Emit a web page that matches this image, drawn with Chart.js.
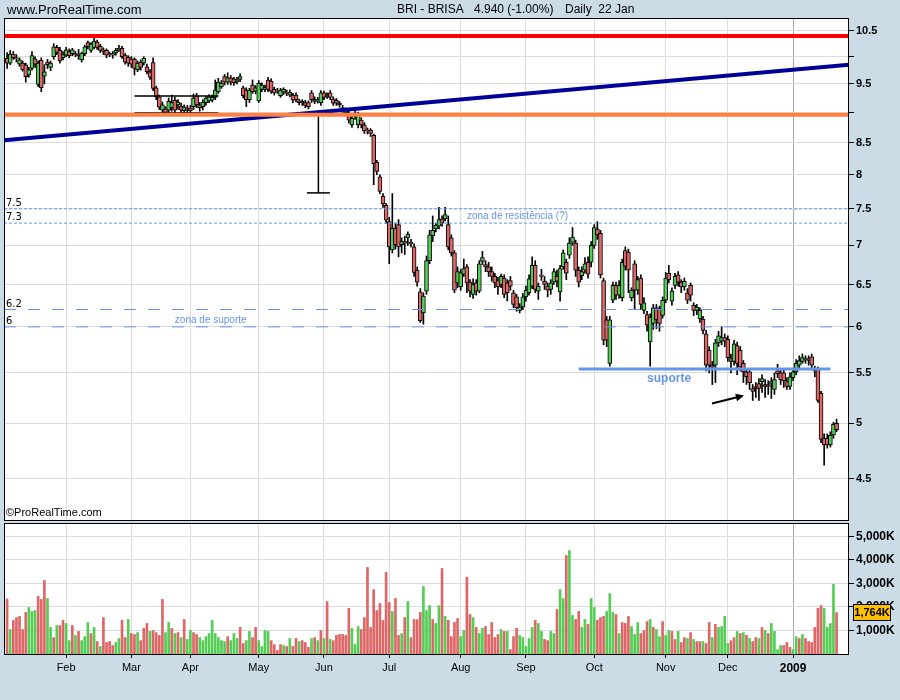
<!DOCTYPE html>
<html>
<head>
<meta charset="utf-8">
<title>BRI - BRISA daily</title>
<script src="https://cdn.jsdelivr.net/npm/chart.js@4.4.0/dist/chart.umd.min.js"></script>
<style>
  html, body { margin: 0; padding: 0; background: #cbdce6; }
  #wrap { position: relative; width: 900px; height: 700px; overflow: hidden; }
  #priceChart { position: absolute; left: 0; top: 0; }
  #volChart { position: absolute; left: 0; top: 521px; }
</style>
</head>
<body>
<div id="wrap">
  <canvas id="priceChart" width="900" height="523"></canvas>
  <canvas id="volChart" width="900" height="179"></canvas>
</div>
<script>
// trading days per month, from 7 Jan 2008 up to 22 Jan 2009
const monthNames = ['Jan', 'Feb', 'Mar', 'Apr', 'May', 'Jun', 'Jul', 'Aug', 'Sep', 'Oct', 'Nov', 'Dec', '2009'];
const daysPerMonth = [19, 21, 19, 22, 21, 21, 23, 21, 22, 23, 20, 21, 15];

const open = [
  9.97, 9.88, 10.05, 9.98, 9.86, 9.88, 9.85, 9.66, 9.78, 9.96, 9.49, 9.93, 9.64, 9.90, 9.80, 10.00, 10.18, 10.12, 9.98,
  10.03, 10.10, 10.06, 10.06, 10.05, 9.94, 10.06, 10.27, 10.12, 10.18, 10.28, 10.20, 10.13, 10.12, 10.06, 10.03, 10.07, 10.13, 10.16, 10.03, 9.99,
  9.96, 9.95, 9.76, 9.90, 9.88, 9.81, 9.72, 9.89, 9.43, 9.27, 9.04, 9.06, 9.04, 9.08, 9.21, 9.13, 9.11, 9.03, 9.07,
  9.08, 9.10, 9.28, 9.13, 9.10, 9.17, 9.20, 9.21, 9.26, 9.36, 9.45, 9.63, 9.53, 9.61, 9.59, 9.54, 9.58, 9.43, 9.39, 9.22, 9.48, 9.37,
  9.20, 9.40, 9.40, 9.57, 9.55, 9.40, 9.39, 9.29, 9.35, 9.35, 9.30, 9.30, 9.30, 9.20, 9.19, 9.17, 9.17, 9.34, 9.22, 9.20, 9.17,
  9.34, 9.27, 9.34, 9.23, 9.21, 9.16, 9.08, 9.04, 8.99, 8.79, 8.99, 8.79, 8.87, 8.79, 8.71, 8.70, 8.62, 8.19, 7.97, 7.68, 7.55,
  7.32, 6.94, 7.23, 7.28, 7.01, 7.05, 7.10, 7.04, 6.98, 6.68, 6.41, 6.16, 6.42, 6.80, 7.13, 7.22, 7.26, 7.36, 7.36, 7.28, 7.10, 6.90, 6.52,
  6.47, 6.63, 6.72, 6.53, 6.38, 6.52, 6.42, 6.79, 6.75, 6.72, 6.66, 6.60, 6.55, 6.50, 6.58, 6.52, 6.55, 6.40, 6.35, 6.19, 6.23,
  6.35, 6.40, 6.48, 6.74, 6.42, 6.62, 6.54, 6.48, 6.44, 6.53, 6.60, 6.41, 6.72, 6.78, 6.87, 7.04, 7.03, 6.68, 6.61, 6.68, 6.78, 6.78,
  7.00, 7.22, 7.16, 6.55, 6.08, 5.60, 6.31, 6.49, 6.37, 6.34, 6.93, 6.91, 6.34, 6.76, 6.43, 6.58, 6.19, 6.14, 5.83, 6.04, 6.22, 6.21, 6.13,
  6.31, 6.64, 6.30, 6.49, 6.62, 6.53, 6.47, 6.40, 6.49, 6.25, 6.19, 6.09, 6.09, 5.92, 5.74, 5.58, 5.58, 5.82, 5.84, 5.88,
  5.86, 5.65, 5.62, 5.79, 5.74, 5.60, 5.51, 5.51, 5.34, 5.36, 5.39, 5.41, 5.38, 5.38, 5.39, 5.33, 5.52, 5.50, 5.50, 5.41, 5.36,
  5.45, 5.51, 5.58, 5.62, 5.64, 5.65, 5.67, 5.54, 5.54, 5.29, 4.86, 4.86, 4.80, 4.89, 5.00
];
const high = [
  10.08, 10.12, 10.10, 10.04, 9.98, 9.92, 9.88, 9.80, 10.10, 10.00, 9.92, 9.98, 9.85, 9.95, 9.92, 10.25, 10.22, 10.18, 10.10,
  10.18, 10.15, 10.16, 10.10, 10.14, 10.09, 10.22, 10.30, 10.27, 10.37, 10.32, 10.24, 10.17, 10.15, 10.09, 10.10, 10.16, 10.22, 10.20, 10.06, 10.02,
  10.00, 9.98, 9.92, 9.94, 10.00, 9.86, 9.76, 9.98, 9.46, 9.30, 9.18, 9.10, 9.25, 9.30, 9.26, 9.22, 9.16, 9.13, 9.12,
  9.12, 9.32, 9.33, 9.17, 9.22, 9.28, 9.31, 9.30, 9.57, 9.60, 9.56, 9.67, 9.70, 9.65, 9.62, 9.62, 9.68, 9.46, 9.43, 9.42, 9.57, 9.47,
  9.56, 9.52, 9.48, 9.62, 9.59, 9.44, 9.42, 9.42, 9.43, 9.39, 9.39, 9.33, 9.34, 9.23, 9.22, 9.21, 9.20, 9.38, 9.27, 9.26, 9.38,
  9.37, 9.34, 9.38, 9.27, 9.24, 9.19, 9.12, 9.08, 9.02, 8.94, 9.03, 9.00, 8.91, 8.83, 8.74, 8.73, 8.64, 8.22, 8.00, 7.72, 7.58,
  7.38, 7.72, 7.30, 7.35, 7.10, 7.12, 7.18, 7.08, 7.02, 6.72, 6.45, 6.40, 6.86, 7.20, 7.40, 7.30, 7.52, 7.40, 7.52, 7.40, 7.14, 6.93, 6.72,
  6.69, 6.82, 6.75, 6.56, 6.57, 6.56, 6.80, 6.92, 6.80, 6.78, 6.72, 6.64, 6.59, 6.63, 6.62, 6.56, 6.60, 6.43, 6.38, 6.27, 6.39,
  6.48, 6.62, 6.85, 6.80, 6.52, 6.69, 6.60, 6.52, 6.56, 6.70, 6.68, 6.74, 6.94, 6.82, 7.10, 7.24, 7.07, 6.72, 6.72, 6.84, 6.85, 7.05,
  7.28, 7.32, 7.20, 6.58, 6.12, 6.12, 6.53, 6.53, 6.55, 6.82, 6.98, 6.95, 6.46, 6.80, 6.60, 6.62, 6.34, 6.18, 6.15, 6.26, 6.26, 6.24, 6.35,
  6.65, 6.74, 6.46, 6.64, 6.66, 6.56, 6.58, 6.45, 6.52, 6.28, 6.26, 6.22, 6.12, 5.96, 5.78, 5.62, 5.86, 5.95, 6.00, 5.92,
  5.90, 5.70, 5.85, 5.83, 5.78, 5.63, 5.54, 5.54, 5.38, 5.40, 5.44, 5.48, 5.43, 5.42, 5.45, 5.50, 5.59, 5.53, 5.54, 5.45, 5.50,
  5.55, 5.64, 5.68, 5.70, 5.68, 5.68, 5.70, 5.57, 5.56, 5.31, 4.90, 4.90, 4.92, 5.01, 5.04
];
const low = [
  9.78, 9.85, 9.95, 9.90, 9.82, 9.73, 9.53, 9.62, 9.75, 9.80, 9.45, 9.36, 9.50, 9.78, 9.74, 9.95, 10.04, 9.88, 9.94,
  10.00, 9.98, 10.02, 10.00, 9.95, 9.90, 10.02, 10.15, 10.08, 10.15, 10.14, 10.08, 10.04, 9.98, 10.00, 9.97, 10.03, 10.10, 9.97, 9.86, 9.82,
  9.80, 9.66, 9.72, 9.75, 9.84, 9.68, 9.58, 9.38, 9.22, 9.05, 9.00, 8.95, 9.00, 9.02, 8.98, 9.05, 9.00, 8.98, 9.00,
  8.98, 9.05, 9.08, 9.02, 9.04, 9.12, 9.17, 9.18, 9.22, 9.33, 9.42, 9.48, 9.49, 9.48, 9.47, 9.50, 9.54, 9.25, 9.10, 9.17, 9.33, 9.32,
  9.17, 9.36, 9.36, 9.36, 9.33, 9.30, 9.33, 9.26, 9.31, 9.29, 9.27, 9.17, 9.18, 9.13, 9.12, 9.08, 9.06, 9.17, 9.15, 9.16, 9.12,
  9.22, 9.24, 9.22, 9.12, 9.12, 9.09, 9.00, 8.94, 8.82, 8.75, 8.88, 8.74, 8.74, 8.65, 8.64, 8.60, 7.85, 8.00, 7.72, 7.52, 7.30,
  6.76, 6.90, 6.95, 6.85, 6.90, 6.88, 7.00, 6.98, 6.60, 6.48, 6.05, 6.03, 6.38, 6.76, 7.05, 7.18, 7.22, 7.26, 7.33, 6.94, 6.86, 6.40, 6.46,
  6.43, 6.60, 6.40, 6.35, 6.33, 6.37, 6.40, 6.75, 6.66, 6.60, 6.54, 6.46, 6.38, 6.46, 6.34, 6.30, 6.43, 6.22, 6.18, 6.16, 6.20,
  6.30, 6.37, 6.45, 6.40, 6.32, 6.55, 6.44, 6.35, 6.38, 6.50, 6.47, 6.30, 6.69, 6.56, 6.83, 7.00, 6.60, 6.47, 6.56, 6.64, 6.58, 6.72,
  6.96, 7.08, 6.58, 5.80, 5.78, 5.57, 6.28, 6.32, 6.33, 6.30, 6.68, 6.40, 6.30, 6.20, 6.38, 6.20, 6.15, 5.95, 5.57, 5.97, 5.98, 5.95, 6.10,
  6.28, 6.52, 6.25, 6.45, 6.48, 6.40, 6.43, 6.27, 6.30, 6.13, 6.14, 6.05, 5.92, 5.52, 5.50, 5.38, 5.40, 5.78, 5.80, 5.78,
  5.62, 5.50, 5.58, 5.48, 5.52, 5.40, 5.38, 5.33, 5.22, 5.25, 5.22, 5.30, 5.25, 5.28, 5.24, 5.28, 5.45, 5.38, 5.35, 5.33, 5.33,
  5.42, 5.48, 5.55, 5.60, 5.60, 5.58, 5.55, 5.46, 5.20, 4.82, 4.62, 4.77, 4.78, 4.86, 4.92
];
const close = [
  9.88, 10.05, 9.98, 9.96, 9.94, 9.76, 9.63, 9.76, 10.02, 9.86, 9.88, 9.43, 9.72, 9.85, 9.88, 10.19, 10.08, 9.92, 10.04,
  10.13, 10.02, 10.13, 10.04, 10.02, 10.07, 10.19, 10.19, 10.24, 10.30, 10.18, 10.12, 10.10, 10.03, 10.04, 10.06, 10.12, 10.16, 10.00, 9.90, 9.88,
  9.86, 9.78, 9.88, 9.80, 9.97, 9.72, 9.62, 9.42, 9.27, 9.09, 9.13, 9.00, 9.19, 9.17, 9.04, 9.18, 9.04, 9.09, 9.05,
  9.03, 9.25, 9.13, 9.08, 9.18, 9.25, 9.27, 9.26, 9.39, 9.53, 9.51, 9.53, 9.61, 9.53, 9.52, 9.57, 9.63, 9.29, 9.22, 9.39, 9.36, 9.43,
  9.51, 9.48, 9.44, 9.40, 9.37, 9.34, 9.37, 9.39, 9.40, 9.33, 9.35, 9.21, 9.22, 9.17, 9.17, 9.12, 9.10, 9.22, 9.19, 9.22, 9.34,
  9.26, 9.30, 9.26, 9.16, 9.16, 9.13, 9.04, 8.99, 8.87, 8.90, 8.93, 8.96, 8.79, 8.69, 8.69, 8.65, 8.17, 8.05, 7.75, 7.57, 7.34,
  6.98, 7.23, 7.01, 6.98, 7.05, 7.03, 7.15, 7.02, 6.65, 6.53, 6.07, 6.36, 6.80, 7.14, 7.20, 7.27, 7.35, 7.30, 7.42, 6.98, 6.90, 6.43, 6.66,
  6.65, 6.70, 6.52, 6.42, 6.50, 6.42, 6.76, 6.84, 6.72, 6.66, 6.60, 6.52, 6.47, 6.60, 6.38, 6.40, 6.48, 6.26, 6.22, 6.23, 6.35,
  6.43, 6.57, 6.74, 6.44, 6.48, 6.60, 6.50, 6.43, 6.52, 6.66, 6.54, 6.70, 6.90, 6.64, 7.03, 7.11, 6.68, 6.53, 6.66, 6.76, 6.63, 7.00,
  7.24, 7.14, 6.62, 5.85, 5.85, 6.08, 6.49, 6.37, 6.49, 6.78, 6.73, 6.68, 6.43, 6.43, 6.56, 6.26, 6.28, 6.02, 6.11, 6.22, 6.08, 6.04, 6.31,
  6.58, 6.56, 6.42, 6.60, 6.53, 6.47, 6.54, 6.31, 6.37, 6.19, 6.23, 6.19, 5.96, 5.58, 5.58, 5.56, 5.82, 5.90, 5.88, 5.84,
  5.66, 5.62, 5.81, 5.60, 5.56, 5.51, 5.46, 5.40, 5.31, 5.34, 5.34, 5.44, 5.36, 5.36, 5.41, 5.43, 5.49, 5.43, 5.42, 5.36, 5.46,
  5.51, 5.60, 5.63, 5.66, 5.65, 5.63, 5.58, 5.52, 5.22, 4.85, 4.80, 4.80, 4.89, 4.99, 4.94
];
// volume in thousands of shares
const volume = [
  2340, 1040, 1430, 1550, 1600, 1040, 1770, 1980, 1810, 1850, 2450, 2320, 3130, 2360, 1130, 700, 1210, 1210, 1430,
  1300, 570, 1210, 790, 960, 570, 740, 1340, 870, 1130, 530, 320, 1550, 490, 530, 360, 490, 660, 1430, 700, 1470,
  870, 830, 910, 570, 1090, 1300, 960, 1000, 910, 790, 2320, 910, 1340, 1090, 870, 910, 700, 1470, 620,
  1000, 910, 830, 700, 570, 740, 870, 1430, 870, 700, 570, 530, 740, 570, 870, 660, 1130, 450, 570, 960, 700, 1130,
  570, 320, 1000, 960, 570, 400, 150, 400, 360, 320, 660, 320, 660, 530, 570, 490, 280, 660, 700, 570, 1000,
  660, 2230, 620, 570, 790, 830, 830, 790, 1940, 1090, 400, 1170, 1040, 1550, 3680, 1130, 2740, 1850, 2150, 1430, 3470,
  2190, 1810, 2360, 790, 870, 1550, 2230, 700, 1470, 1470, 1770, 2870, 1850, 2060, 1470, 1300, 2060, 3640, 1600, 1430, 740, 1340, 1510,
  740, 1000, 3270, 1680, 1550, 1130, 870, 1090, 1170, 830, 1340, 700, 830, 1040, 960, 960, 190, 740, 1090, 790, 700,
  320, 660, 1130, 1430, 1300, 960, 620, 570, 960, 870, 1890, 2740, 2360, 4190, 4400, 1640, 1470, 1810, 1130, 1470, 1260, 2360,
  1980, 1430, 1550, 1600, 1810, 2570, 1770, 1680, 870, 1340, 1300, 1600, 1170, 830, 1340, 870, 1000, 1380, 1470, 1130, 1040, 740, 1380,
  790, 1000, 960, 620, 960, 490, 700, 660, 910, 620, 530, 530, 530, 450, 1340, 700, 1260, 1130, 1170, 1600,
  450, 570, 700, 960, 870, 910, 790, 660, 530, 700, 660, 1130, 1000, 870, 1300, 960, 190, 360, 360, 490, 280,
  190, 740, 660, 830, 660, 530, 490, 1130, 1940, 2060, 1940, 1130, 1300, 2960, 1764
];
// g = up day, r = down day (volume bar colour)
const volumeDir =
  'rgrrrrrgggrrrggrgrr' + 'ggrgrgggrgrgrrrrggrrg' + 'rrgrrrgrrrrggrgrgrg' + 'grrgggggggggrgggrrggrr' +
  'ggggrrrrgrgrrgrrrgrgr' + 'grgrrrrrrgggrrrrrrrrr' + 'rgrrgrgrrrrgggrggrgrrrr' + 'ggrrgrggrrrrrgrgrrrgg' +
  'gggrggrrggrggrggrrggrg' + 'grrrgggrgrrrgggrrrgrggr' + 'ggrrgrrgrgrrgrrgrggg' + 'grrgrgrgrrgrgrggggrrr' +
  'ggrgrrrrrrggggr';

const priceTicks = [4.5, 5, 5.5, 6, 6.5, 7, 7.5, 8, 8.5, 9, 9.5, 10, 10.5];
const hiddenPriceLabels = [9, 10];
const volumeTicks = [1000, 2000, 3000, 4000, 5000];

// drawn levels and notes
const redLevel = 10.40;
const orangeLevel = 8.96;
const trendFrom = 8.54, trendTo = 9.85;
const resistZone = [7.5, 7.3];
const supportZone = [6.2, 6];
const supportLevel = 5.54, supportFrom = 184, supportTo = 265;
const boxTop = 9.285, boxBottom = 8.99, boxFrom = 41, boxTo = 68;
const targetAt = 100.2, targetFrom = 8.99, targetTo = 7.73;
const arrowFrom = [226.9, 5.19], arrowTo = [237.2, 5.27];

const UP = '#55cc55';
const DOWN = '#dd6666';
const GRID = '#dcdcdc';
const NOTE = '#6495ed';

const nDays = close.length;
const xMin = -1, xMax = nDays + 3;
const monthStart = [];
let acc = 0;
daysPerMonth.forEach(d => { monthStart.push(acc); acc += d; });
const monthTicks = monthStart.slice(1);
const newYear = monthStart[monthStart.length - 1];
const lastVolume = volume[volume.length - 1];

Chart.defaults.font.family = '"Liberation Sans", Arial, sans-serif';
Chart.defaults.color = '#000';

function lineSet(points, color, width, dash) {
  return {
    type: 'line',
    data: points.map(p => ({ x: p[0], y: p[1] })),
    borderColor: color,
    borderWidth: width,
    borderDash: dash || [],
    pointRadius: 0,
    fill: false,
    tension: 0,
    order: 0
  };
}

function monthGrid(ctx) {
  if (!ctx.tick) return GRID;
  return ctx.tick.value === newYear ? '#a8a8a8' : GRID;
}

// keep tick labels from pushing the plot area in
function noPad(s) {
  s.paddingTop = 0;
  s.paddingBottom = 0;
  s.paddingLeft = 0;
  s.paddingRight = 0;
}

// white plot area with a black frame
const frame = {
  id: 'frame',
  beforeDraw(chart) {
    const a = chart.chartArea, c = chart.ctx;
    c.save();
    c.fillStyle = '#fff';
    c.fillRect(a.left, a.top, a.right - a.left, a.bottom - a.top);
    c.restore();
  },
  afterDraw(chart) {
    const a = chart.chartArea, c = chart.ctx;
    c.save();
    c.strokeStyle = '#000';
    c.lineWidth = 1;
    c.strokeRect(a.left + 0.5, a.top + 0.5, a.right - a.left - 1, a.bottom - a.top);
    c.restore();
  }
};

const priceNotes = {
  id: 'priceNotes',
  afterDraw(chart) {
    const c = chart.ctx, x = chart.scales.x, y = chart.scales.y, a = chart.chartArea;
    c.save();
    // header
    c.fillStyle = '#000';
    c.textBaseline = 'middle';
    c.font = '13px "Liberation Sans"';
    c.fillText('www.ProRealTime.com', 7, 10);
    c.font = '12px "Liberation Sans"';
    c.fillText('BRI - BRISA', 397, 10);
    c.fillText('4.940 (-1.00%)', 474, 10);
    c.fillText('Daily  22 Jan', 565, 10);
    c.font = '11px "Liberation Sans"';
    c.fillText('\u00a9ProRealTime.com', a.left + 2, a.bottom - 7);

    // zone values at the left
    c.font = '10px "DejaVu Sans"';
    c.textBaseline = 'alphabetic';
    resistZone.concat(supportZone).forEach(v => {
      c.fillText(String(v), a.left + 2, y.getPixelForValue(v) - 3);
    });

    // zone comments
    c.fillStyle = NOTE;
    c.textBaseline = 'middle';
    c.font = '10px "Liberation Sans"';
    const rMid = (y.getPixelForValue(resistZone[0]) + y.getPixelForValue(resistZone[1])) / 2;
    c.fillText('zona de resist\u00eancia (?)', x.getPixelForValue(148), rMid);
    const sMid = (y.getPixelForValue(supportZone[0]) + y.getPixelForValue(supportZone[1])) / 2 + 2;
    c.fillText('zona de suporte', x.getPixelForValue(54), sMid);
    c.font = 'bold 12px "Liberation Sans"';
    c.fillText('suporte', x.getPixelForValue(206), y.getPixelForValue(supportLevel) + 10);

    // arrow
    const x0 = x.getPixelForValue(arrowFrom[0]), y0 = y.getPixelForValue(arrowFrom[1]);
    const x1 = x.getPixelForValue(arrowTo[0]), y1 = y.getPixelForValue(arrowTo[1]);
    const ang = Math.atan2(y1 - y0, x1 - x0);
    c.strokeStyle = '#000';
    c.fillStyle = '#000';
    c.lineWidth = 2;
    c.beginPath();
    c.moveTo(x0, y0);
    c.lineTo(x1 - 4 * Math.cos(ang), y1 - 4 * Math.sin(ang));
    c.stroke();
    c.beginPath();
    c.moveTo(x1, y1);
    c.lineTo(x1 - 9 * Math.cos(ang - 0.45), y1 - 9 * Math.sin(ang - 0.45));
    c.lineTo(x1 - 9 * Math.cos(ang + 0.45), y1 - 9 * Math.sin(ang + 0.45));
    c.closePath();
    c.fill();
    c.restore();
  }
};

const volNotes = {
  id: 'volNotes',
  afterDraw(chart) {
    const c = chart.ctx, y = chart.scales.y, a = chart.chartArea;
    const py = Math.round(y.getPixelForValue(lastVolume));
    c.save();
    c.fillStyle = '#ffc000';
    c.fillRect(a.right + 4.5, py - 8.5, 37, 16);
    c.strokeStyle = '#000';
    c.lineWidth = 1;
    c.strokeRect(a.right + 4.5, py - 8.5, 37, 16);
    c.fillStyle = '#000';
    c.font = 'bold 11px "Liberation Sans"';
    c.textBaseline = 'middle';
    c.textAlign = 'center';
    c.fillText((lastVolume / 1000).toFixed(3).replace('.', ',') + 'K', a.right + 23, py);
    c.restore();
  }
};

// Price chart
const priceCtx = document.getElementById('priceChart').getContext('2d');
new Chart(priceCtx, {
  type: 'bar',
  data: {
    datasets: [
      lineSet([[xMin, redLevel], [xMax, redLevel]], '#ff0000', 4),
      lineSet([[xMin, orangeLevel], [xMax, orangeLevel]], '#ff8040', 4),
      lineSet([[xMin, trendFrom], [xMax, trendTo]], '#000099', 4),
      lineSet([[xMin, resistZone[0]], [xMax, resistZone[0]]], NOTE, 1, [3, 2]),
      lineSet([[xMin, resistZone[1]], [xMax, resistZone[1]]], NOTE, 1, [3, 2]),
      lineSet([[xMin, supportZone[0]], [xMax, supportZone[0]]], NOTE, 1, [12, 12]),
      lineSet([[xMin, supportZone[1]], [xMax, supportZone[1]]], NOTE, 1, [12, 12]),
      lineSet([[supportFrom, supportLevel], [supportTo, supportLevel]], NOTE, 3),
      lineSet([[boxFrom, boxTop], [boxTo, boxTop]], '#000', 1.5),
      lineSet([[boxFrom, boxBottom], [boxTo, boxBottom]], '#000', 1.5),
      lineSet([[targetAt, targetFrom], [targetAt, targetTo]], '#000', 1.5),
      lineSet([[targetAt - 3.7, targetTo], [targetAt + 3.7, targetTo]], '#000', 1.5),
      {
        label: 'wick',
        data: close.map((_, i) => ({ x: i, y: [low[i], high[i]] })),
        backgroundColor: '#000',
        barThickness: 1,
        grouped: false,
        order: 3
      },
      {
        label: 'body',
        data: close.map((c, i) => ({ x: i, y: [open[i], c] })),
        backgroundColor: close.map((c, i) => c >= open[i] ? UP : DOWN),
        borderColor: '#000',
        borderWidth: 1,
        borderSkipped: false,
        barThickness: 4,
        grouped: false,
        order: 2
      }
    ]
  },
  options: {
    responsive: false,
    maintainAspectRatio: false,
    devicePixelRatio: 1,
    animation: false,
    events: [],
    layout: { padding: { left: 4, top: 18, right: 0, bottom: 3 } },
    plugins: {
      legend: { display: false },
      tooltip: { enabled: false }
    },
    scales: {
      x: {
        type: 'linear',
        min: xMin,
        max: xMax,
        offset: false,
        afterBuildTicks: s => { s.ticks = monthTicks.map(v => ({ value: v })); },
        afterFit: s => { s.height = 0; noPad(s); },
        ticks: { display: false },
        grid: { offset: false, drawTicks: false, color: monthGrid },
        border: { display: false }
      },
      y: {
        type: 'logarithmic',
        position: 'right',
        min: 4.164,
        max: 10.76,
        beginAtZero: false,
        afterBuildTicks: s => { s.ticks = priceTicks.map(v => ({ value: v })); },
        afterFit: s => { s.width = 51; noPad(s); },
        ticks: {
          autoSkip: false,
          padding: 2,
          font: { size: 11, weight: 'bold' },
          callback: v => hiddenPriceLabels.includes(v) ? '' : String(v)
        },
        grid: { color: GRID, tickLength: 5, tickColor: '#000' },
        border: { display: false }
      }
    }
  },
  plugins: [frame, priceNotes]
});

// Volume chart
const volCtx = document.getElementById('volChart').getContext('2d');
new Chart(volCtx, {
  type: 'bar',
  data: {
    datasets: [{
      label: 'Volume',
      data: volume.map((v, i) => ({ x: i, y: v })),
      backgroundColor: volume.map((_, i) => volumeDir[i] === 'g' ? UP : DOWN),
      barThickness: 2
    }]
  },
  options: {
    responsive: false,
    maintainAspectRatio: false,
    devicePixelRatio: 1,
    animation: false,
    events: [],
    layout: { padding: { left: 4, top: 2, right: 0, bottom: 0 } },
    plugins: {
      legend: { display: false },
      tooltip: { enabled: false }
    },
    scales: {
      x: {
        type: 'linear',
        min: xMin,
        max: xMax,
        offset: false,
        afterBuildTicks: s => { s.ticks = monthTicks.map(v => ({ value: v })); },
        afterFit: s => { s.height = 46; noPad(s); },
        ticks: {
          autoSkip: false,
          maxRotation: 0,
          padding: 3,
          font: ctx => (ctx.tick && ctx.tick.value === newYear)
            ? { size: 12, weight: 'bold' } : { size: 11 },
          callback: v => monthNames[monthStart.indexOf(v)]
        },
        grid: { offset: false, color: monthGrid, tickLength: 4, tickColor: '#000' },
        border: { display: false }
      },
      y: {
        position: 'right',
        min: 0,
        max: 5574,
        afterBuildTicks: s => { s.ticks = volumeTicks.map(v => ({ value: v })); },
        afterFit: s => { s.width = 51; noPad(s); },
        ticks: {
          autoSkip: false,
          padding: 2,
          font: { size: 12, weight: 'bold' },
          callback: v => (v / 1000) + ',000K'
        },
        grid: { color: GRID, tickLength: 5, tickColor: '#000' },
        border: { display: false }
      }
    }
  },
  plugins: [frame, volNotes]
});
</script>
</body>
</html>
